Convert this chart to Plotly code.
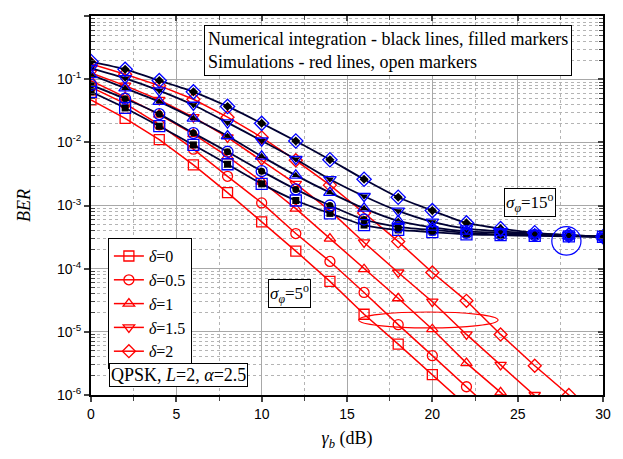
import plotly.graph_objects as go

# ---------------- data ----------------
snr_db = [0, 2, 4, 6, 8, 10, 12, 14, 16, 18, 20, 22, 24, 26, 28, 30]
delta_labels = ["0", "0.5", "1", "1.5", "2"]

# sigma_phi = 5 deg (red lines, open markers)
ber5_d0 = [0.047, 0.024, 0.011, 0.0044, 0.0016, 5.5e-4, 1.9e-4, 6.3e-5, 1.9e-5, 6.4e-6, 2.1e-6, 6.8e-7]
ber5_d05 = [0.075, 0.041, 0.019, 0.0078, 0.0029, 1.1e-3, 3.6e-4, 1.3e-4, 4.2e-5, 1.3e-5, 4.2e-6, 1.35e-6, 4.3e-7]
ber5_d1 = [0.095, 0.052, 0.0275, 0.0135, 0.006, 0.0024, 8.9e-4, 3.0e-4, 9.8e-5, 3.4e-5, 1.1e-5, 3.2e-6, 1.1e-6, 3.5e-7]
ber5_d15 = [0.126, 0.079, 0.047, 0.025, 0.012, 0.0052, 0.0022, 8.3e-4, 2.6e-4, 8.7e-5, 3.0e-5, 9.1e-6, 3.0e-6, 1.0e-6, 3.2e-7]
ber5_d2 = [0.174, 0.12, 0.079, 0.048, 0.025, 0.012, 0.0052, 0.0021, 7.6e-4, 2.7e-4, 8.7e-5, 3.1e-5, 9.1e-6, 2.9e-6, 1.0e-6, 3.2e-7]

# sigma_phi = 15 deg (black lines filled markers; blue open markers)
ber15_d0 = [0.063, 0.035, 0.018, 0.0091, 0.0045, 0.0022, 0.0012, 7.5e-4, 4.9e-4, 4.1e-4, 3.8e-4, 3.5e-4, 3.4e-4, 3.3e-4, 3.25e-4, 3.2e-4]
ber15_d05 = [0.081, 0.049, 0.028, 0.014, 0.0071, 0.0035, 0.0018, 1.0e-3, 6.0e-4, 4.6e-4, 4.1e-4, 3.7e-4, 3.5e-4, 3.4e-4, 3.3e-4, 3.2e-4]
ber15_d1 = [0.117, 0.072, 0.044, 0.024, 0.0126, 0.006, 0.003, 0.0016, 9.0e-4, 5.7e-4, 4.5e-4, 3.9e-4, 3.7e-4, 3.5e-4, 3.3e-4, 3.2e-4]
ber15_d15 = [0.15, 0.103, 0.066, 0.039, 0.0205, 0.0106, 0.0054, 0.0026, 0.0014, 8.2e-4, 5.5e-4, 4.3e-4, 3.9e-4, 3.6e-4, 3.4e-4, 3.2e-4]
ber15_d2 = [0.19, 0.143, 0.095, 0.063, 0.037, 0.020, 0.0105, 0.0053, 0.0026, 0.00135, 8.3e-4, 5.3e-4, 4.3e-4, 3.7e-4, 3.4e-4, 3.2e-4]

x_ticks = [0, 5, 10, 15, 20, 25, 30]
y_tickvals = [1e-6, 1e-5, 1e-4, 1e-3, 1e-2, 1e-1, 1]
y_ticktext = ["10<sup>-6</sup>", "10<sup>-5</sup>", "10<sup>-4</sup>", "10<sup>-3</sup>",
              "10<sup>-2</sup>", "10<sup>-1</sup>", "10<sup>0</sup>"]

# ---------------- figure ----------------
symbols = ["square", "circle", "triangle-up", "triangle-down", "diamond"]
red_sets = [ber5_d0, ber5_d05, ber5_d1, ber5_d15, ber5_d2]
blk_sets = [ber15_d0, ber15_d05, ber15_d1, ber15_d15, ber15_d2]

SERIF = "Liberation Serif"
SANS = "Liberation Sans"

fig = go.Figure()

for lab, sym, ys in zip(delta_labels, symbols, red_sets):
    fig.add_trace(go.Scatter(
        x=snr_db[:len(ys)], y=ys, mode="lines+markers",
        name="<i>δ</i>=" + lab,
        line=dict(color="#ff0000", width=1.5),
        marker=dict(symbol=sym + "-open", size=10, color="#ff0000", line=dict(width=1.3, color="#ff0000")),
    ))

for sym, ys in zip(symbols, blk_sets):
    fig.add_trace(go.Scatter(
        x=snr_db[:len(ys)], y=ys, mode="lines+markers", showlegend=False,
        line=dict(color="#000033", width=1.8, shape="spline", smoothing=0.6),
        marker=dict(symbol=sym, size=7, color="#000000"),
    ))

for sym, ys in zip(symbols, blk_sets):
    fig.add_trace(go.Scatter(
        x=snr_db[:len(ys)], y=ys, mode="markers", showlegend=False,
        marker=dict(symbol=sym + "-open", size=11, color="#0000ff", line=dict(width=1.3, color="#0000ff")),
    ))

# dummy for overlay axes (top/right inside ticks)
fig.add_trace(go.Scatter(x=[], y=[], xaxis="x2", yaxis="y2", showlegend=False, hoverinfo="skip"))

minor_y = [m * 10.0 ** e for e in range(-6, 0) for m in range(2, 10)]

fig.update_layout(
    width=607, height=443,
    margin=dict(l=83, r=12, t=8, b=56, autoexpand=False),
    paper_bgcolor="white", plot_bgcolor="white",
    showlegend=True,
    legend=dict(x=0.033, y=0.414, xanchor="left", yanchor="top",
                bordercolor="#000000", borderwidth=1, bgcolor="white",
                font=dict(family=SERIF, size=16, color="black"),
                itemwidth=30, tracegroupgap=0),
    xaxis=dict(range=[0, 30], tickvals=x_ticks, ticks="outside", ticklen=5, tickwidth=1.5,
               showline=True, linecolor="black", linewidth=2, mirror=True, automargin=False,
               showgrid=True, gridcolor="#a8a8a8", gridwidth=1,
               minor=dict(dtick=2.5, tick0=0, ticks="outside", ticklen=4, tickwidth=1.2,
                          showgrid=True, gridcolor="#b4b4b4", griddash="dot", gridwidth=1),
               tickfont=dict(family=SANS, size=14, color="black"), zeroline=False,
               title=dict(text="<i>γ<sub>b</sub></i> (dB)", font=dict(family=SERIF, size=18, color="black"), standoff=12)),
    yaxis=dict(type="log", range=[-6, 0], tickvals=y_tickvals, ticktext=y_ticktext,
               ticks="outside", ticklen=5, tickwidth=1.5, automargin=False,
               showline=True, linecolor="black", linewidth=2, mirror=True,
               showgrid=True, gridcolor="#a8a8a8", gridwidth=1,
               minor=dict(tickvals=minor_y, ticks="inside", ticklen=4, tickwidth=1.2,
                          showgrid=True, gridcolor="#b4b4b4", griddash="dot", gridwidth=1),
               tickfont=dict(family=SANS, size=14, color="black"), zeroline=False,
               title=dict(text="<i>BER</i>", font=dict(family=SERIF, size=18, color="black"), standoff=22)),
    xaxis2=dict(overlaying="x", side="top", anchor="y", range=[0, 30], tickvals=x_ticks,
                ticks="inside", ticklen=5, tickwidth=1.5, showticklabels=False, showgrid=False,
                showline=False, zeroline=False, automargin=False,
                minor=dict(dtick=2.5, tick0=0, ticks="inside", ticklen=4, tickwidth=1.2, showgrid=False)),
    yaxis2=dict(overlaying="y", side="right", anchor="x", type="log", range=[-6, 0], tickvals=y_tickvals,
                ticks="inside", ticklen=5, tickwidth=1.5, showticklabels=False, showgrid=False,
                showline=False, zeroline=False, automargin=False,
                minor=dict(tickvals=minor_y, ticks="inside", ticklen=4, tickwidth=1.2, showgrid=False)),
)

box = dict(bordercolor="#000000", borderwidth=1, bgcolor="white", showarrow=False,
           xref="paper", yref="paper", xanchor="left", yanchor="top", align="left")

fig.add_annotation(text="Numerical integration - black lines, filled markers<br>Simulations - red lines, open markers",
                   x=0.2207, y=0.976, borderpad=3, font=dict(family=SERIF, size=18, color="black"), **box)
fig.add_annotation(text="QPSK, <i>L</i>=2, <i>α</i>=2.5",
                   x=0.035, y=0.0844, borderpad=1, font=dict(family=SERIF, size=18, color="black"), **box)
fig.add_annotation(text="<i>σ</i><sub><i>φ</i></sub>=5<sup>o</sup>",
                   x=0.346, y=0.306, borderpad=1, font=dict(family=SERIF, size=17, color="black"), **box)
fig.add_annotation(text="<i>σ</i><sub><i>φ</i></sub>=15<sup>o</sup>",
                   x=0.807, y=0.546, borderpad=1, font=dict(family=SERIF, size=17, color="black"), **box)

fig.add_shape(type="circle", xref="x domain", yref="y domain",
              x0=0.523, x1=0.795, y0=0.177, y1=0.219, line=dict(color="#ff0000", width=1.2))
fig.add_shape(type="circle", xref="x domain", yref="y domain",
              x0=0.900, x1=0.957, y0=0.369, y1=0.444, line=dict(color="#0000ff", width=1.2))

fig.write_html("out.html")
